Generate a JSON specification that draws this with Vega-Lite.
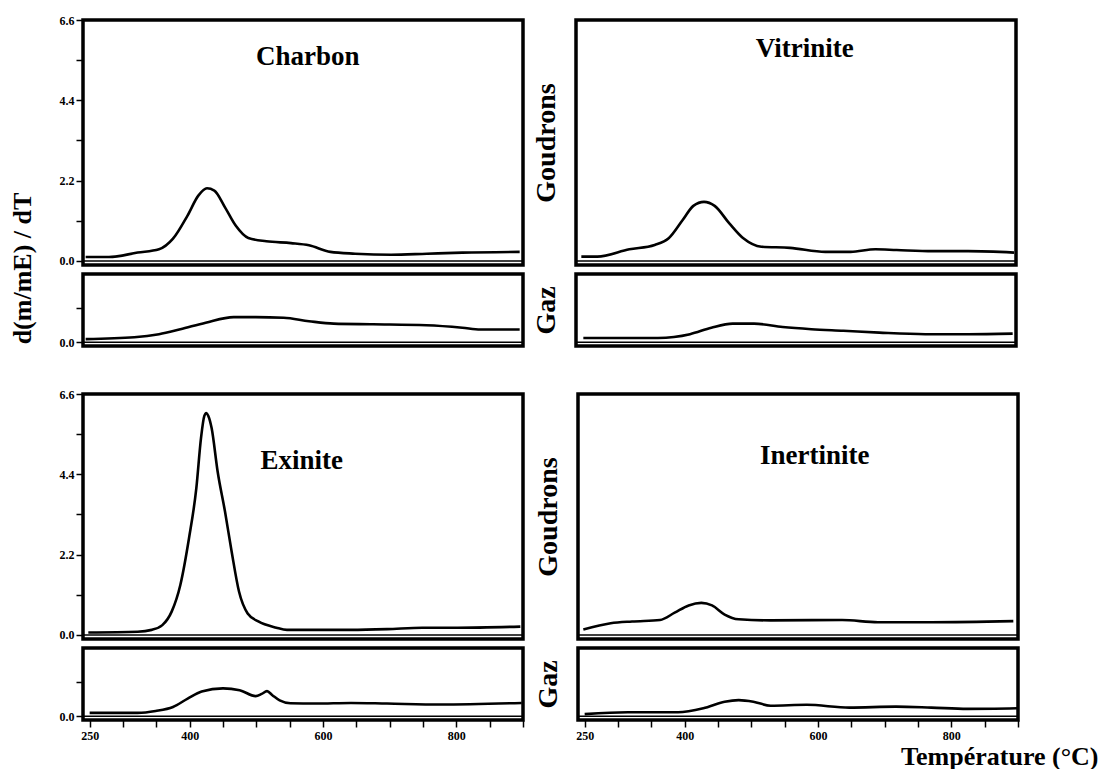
{
  "$schema": "https://vega.github.io/schema/vega-lite/v6.json",
  "background": "white",
  "padding": {"left": 7, "top": 12, "right": 2, "bottom": 2},
  "datasets": {
    "curves": [
      {"s": "Charbon", "p": "Goudrons", "T": 244, "v": 0.11},
      {"s": "Charbon", "p": "Goudrons", "T": 279, "v": 0.11},
      {"s": "Charbon", "p": "Goudrons", "T": 322, "v": 0.23},
      {"s": "Charbon", "p": "Goudrons", "T": 354, "v": 0.32},
      {"s": "Charbon", "p": "Goudrons", "T": 375, "v": 0.61},
      {"s": "Charbon", "p": "Goudrons", "T": 397, "v": 1.25},
      {"s": "Charbon", "p": "Goudrons", "T": 413, "v": 1.79},
      {"s": "Charbon", "p": "Goudrons", "T": 426, "v": 1.99},
      {"s": "Charbon", "p": "Goudrons", "T": 437, "v": 1.93},
      {"s": "Charbon", "p": "Goudrons", "T": 453, "v": 1.47},
      {"s": "Charbon", "p": "Goudrons", "T": 469, "v": 0.97},
      {"s": "Charbon", "p": "Goudrons", "T": 488, "v": 0.63},
      {"s": "Charbon", "p": "Goudrons", "T": 515, "v": 0.54},
      {"s": "Charbon", "p": "Goudrons", "T": 552, "v": 0.49},
      {"s": "Charbon", "p": "Goudrons", "T": 579, "v": 0.43},
      {"s": "Charbon", "p": "Goudrons", "T": 611, "v": 0.25},
      {"s": "Charbon", "p": "Goudrons", "T": 648, "v": 0.20},
      {"s": "Charbon", "p": "Goudrons", "T": 702, "v": 0.17},
      {"s": "Charbon", "p": "Goudrons", "T": 756, "v": 0.20},
      {"s": "Charbon", "p": "Goudrons", "T": 809, "v": 0.23},
      {"s": "Charbon", "p": "Goudrons", "T": 895, "v": 0.25},
      {"s": "Charbon", "p": "Gaz", "T": 244, "v": 0.10},
      {"s": "Charbon", "p": "Gaz", "T": 317, "v": 0.16},
      {"s": "Charbon", "p": "Gaz", "T": 354, "v": 0.26},
      {"s": "Charbon", "p": "Gaz", "T": 386, "v": 0.42},
      {"s": "Charbon", "p": "Gaz", "T": 424, "v": 0.63},
      {"s": "Charbon", "p": "Gaz", "T": 466, "v": 0.81},
      {"s": "Charbon", "p": "Gaz", "T": 499, "v": 0.81},
      {"s": "Charbon", "p": "Gaz", "T": 541, "v": 0.79},
      {"s": "Charbon", "p": "Gaz", "T": 579, "v": 0.68},
      {"s": "Charbon", "p": "Gaz", "T": 616, "v": 0.60},
      {"s": "Charbon", "p": "Gaz", "T": 675, "v": 0.58},
      {"s": "Charbon", "p": "Gaz", "T": 755, "v": 0.55},
      {"s": "Charbon", "p": "Gaz", "T": 809, "v": 0.47},
      {"s": "Charbon", "p": "Gaz", "T": 836, "v": 0.41},
      {"s": "Charbon", "p": "Gaz", "T": 895, "v": 0.41},
      {"s": "Vitrinite", "p": "Goudrons", "T": 248, "v": 0.12},
      {"s": "Vitrinite", "p": "Goudrons", "T": 272, "v": 0.12},
      {"s": "Vitrinite", "p": "Goudrons", "T": 320, "v": 0.32},
      {"s": "Vitrinite", "p": "Goudrons", "T": 358, "v": 0.44},
      {"s": "Vitrinite", "p": "Goudrons", "T": 379, "v": 0.62},
      {"s": "Vitrinite", "p": "Goudrons", "T": 400, "v": 1.12},
      {"s": "Vitrinite", "p": "Goudrons", "T": 416, "v": 1.51},
      {"s": "Vitrinite", "p": "Goudrons", "T": 432, "v": 1.62},
      {"s": "Vitrinite", "p": "Goudrons", "T": 448, "v": 1.51},
      {"s": "Vitrinite", "p": "Goudrons", "T": 470, "v": 1.03},
      {"s": "Vitrinite", "p": "Goudrons", "T": 491, "v": 0.62},
      {"s": "Vitrinite", "p": "Goudrons", "T": 518, "v": 0.39},
      {"s": "Vitrinite", "p": "Goudrons", "T": 561, "v": 0.36},
      {"s": "Vitrinite", "p": "Goudrons", "T": 614, "v": 0.25},
      {"s": "Vitrinite", "p": "Goudrons", "T": 652, "v": 0.25},
      {"s": "Vitrinite", "p": "Goudrons", "T": 689, "v": 0.32},
      {"s": "Vitrinite", "p": "Goudrons", "T": 721, "v": 0.30},
      {"s": "Vitrinite", "p": "Goudrons", "T": 775, "v": 0.27},
      {"s": "Vitrinite", "p": "Goudrons", "T": 828, "v": 0.27},
      {"s": "Vitrinite", "p": "Goudrons", "T": 897, "v": 0.23},
      {"s": "Vitrinite", "p": "Gaz", "T": 251, "v": 0.14},
      {"s": "Vitrinite", "p": "Gaz", "T": 363, "v": 0.14},
      {"s": "Vitrinite", "p": "Gaz", "T": 411, "v": 0.26},
      {"s": "Vitrinite", "p": "Gaz", "T": 443, "v": 0.47},
      {"s": "Vitrinite", "p": "Gaz", "T": 475, "v": 0.60},
      {"s": "Vitrinite", "p": "Gaz", "T": 507, "v": 0.60},
      {"s": "Vitrinite", "p": "Gaz", "T": 550, "v": 0.49},
      {"s": "Vitrinite", "p": "Gaz", "T": 593, "v": 0.42},
      {"s": "Vitrinite", "p": "Gaz", "T": 641, "v": 0.37},
      {"s": "Vitrinite", "p": "Gaz", "T": 695, "v": 0.31},
      {"s": "Vitrinite", "p": "Gaz", "T": 764, "v": 0.26},
      {"s": "Vitrinite", "p": "Gaz", "T": 828, "v": 0.26},
      {"s": "Vitrinite", "p": "Gaz", "T": 895, "v": 0.28},
      {"s": "Exinite", "p": "Goudrons", "T": 248, "v": 0.07},
      {"s": "Exinite", "p": "Goudrons", "T": 322, "v": 0.09},
      {"s": "Exinite", "p": "Goudrons", "T": 343, "v": 0.14},
      {"s": "Exinite", "p": "Goudrons", "T": 359, "v": 0.27},
      {"s": "Exinite", "p": "Goudrons", "T": 373, "v": 0.64},
      {"s": "Exinite", "p": "Goudrons", "T": 386, "v": 1.37},
      {"s": "Exinite", "p": "Goudrons", "T": 399, "v": 2.65},
      {"s": "Exinite", "p": "Goudrons", "T": 410, "v": 4.02},
      {"s": "Exinite", "p": "Goudrons", "T": 417, "v": 5.39},
      {"s": "Exinite", "p": "Goudrons", "T": 422, "v": 6.0},
      {"s": "Exinite", "p": "Goudrons", "T": 425, "v": 6.08},
      {"s": "Exinite", "p": "Goudrons", "T": 428, "v": 6.0},
      {"s": "Exinite", "p": "Goudrons", "T": 433, "v": 5.66},
      {"s": "Exinite", "p": "Goudrons", "T": 442, "v": 4.47},
      {"s": "Exinite", "p": "Goudrons", "T": 453, "v": 3.38},
      {"s": "Exinite", "p": "Goudrons", "T": 463, "v": 2.28},
      {"s": "Exinite", "p": "Goudrons", "T": 474, "v": 1.19},
      {"s": "Exinite", "p": "Goudrons", "T": 487, "v": 0.59},
      {"s": "Exinite", "p": "Goudrons", "T": 503, "v": 0.37},
      {"s": "Exinite", "p": "Goudrons", "T": 530, "v": 0.20},
      {"s": "Exinite", "p": "Goudrons", "T": 546, "v": 0.14},
      {"s": "Exinite", "p": "Goudrons", "T": 589, "v": 0.14},
      {"s": "Exinite", "p": "Goudrons", "T": 642, "v": 0.14},
      {"s": "Exinite", "p": "Goudrons", "T": 696, "v": 0.16},
      {"s": "Exinite", "p": "Goudrons", "T": 749, "v": 0.20},
      {"s": "Exinite", "p": "Goudrons", "T": 802, "v": 0.20},
      {"s": "Exinite", "p": "Goudrons", "T": 896, "v": 0.23},
      {"s": "Exinite", "p": "Gaz", "T": 250, "v": 0.11},
      {"s": "Exinite", "p": "Gaz", "T": 322, "v": 0.11},
      {"s": "Exinite", "p": "Gaz", "T": 349, "v": 0.17},
      {"s": "Exinite", "p": "Gaz", "T": 375, "v": 0.30},
      {"s": "Exinite", "p": "Gaz", "T": 397, "v": 0.57},
      {"s": "Exinite", "p": "Gaz", "T": 418, "v": 0.80},
      {"s": "Exinite", "p": "Gaz", "T": 450, "v": 0.90},
      {"s": "Exinite", "p": "Gaz", "T": 475, "v": 0.84},
      {"s": "Exinite", "p": "Gaz", "T": 499, "v": 0.65},
      {"s": "Exinite", "p": "Gaz", "T": 508, "v": 0.72},
      {"s": "Exinite", "p": "Gaz", "T": 516, "v": 0.81},
      {"s": "Exinite", "p": "Gaz", "T": 524, "v": 0.68},
      {"s": "Exinite", "p": "Gaz", "T": 535, "v": 0.51},
      {"s": "Exinite", "p": "Gaz", "T": 551, "v": 0.42},
      {"s": "Exinite", "p": "Gaz", "T": 589, "v": 0.41},
      {"s": "Exinite", "p": "Gaz", "T": 642, "v": 0.43},
      {"s": "Exinite", "p": "Gaz", "T": 696, "v": 0.41},
      {"s": "Exinite", "p": "Gaz", "T": 776, "v": 0.38},
      {"s": "Exinite", "p": "Gaz", "T": 898, "v": 0.43},
      {"s": "Inertinite", "p": "Goudrons", "T": 248, "v": 0.15},
      {"s": "Inertinite", "p": "Goudrons", "T": 289, "v": 0.32},
      {"s": "Inertinite", "p": "Goudrons", "T": 321, "v": 0.37},
      {"s": "Inertinite", "p": "Goudrons", "T": 363, "v": 0.41},
      {"s": "Inertinite", "p": "Goudrons", "T": 385, "v": 0.61},
      {"s": "Inertinite", "p": "Goudrons", "T": 406, "v": 0.81},
      {"s": "Inertinite", "p": "Goudrons", "T": 425, "v": 0.88},
      {"s": "Inertinite", "p": "Goudrons", "T": 441, "v": 0.81},
      {"s": "Inertinite", "p": "Goudrons", "T": 460, "v": 0.56},
      {"s": "Inertinite", "p": "Goudrons", "T": 481, "v": 0.43},
      {"s": "Inertinite", "p": "Goudrons", "T": 529, "v": 0.40},
      {"s": "Inertinite", "p": "Goudrons", "T": 636, "v": 0.41},
      {"s": "Inertinite", "p": "Goudrons", "T": 690, "v": 0.35},
      {"s": "Inertinite", "p": "Goudrons", "T": 770, "v": 0.35},
      {"s": "Inertinite", "p": "Goudrons", "T": 893, "v": 0.38},
      {"s": "Inertinite", "p": "Gaz", "T": 250, "v": 0.07},
      {"s": "Inertinite", "p": "Gaz", "T": 315, "v": 0.13},
      {"s": "Inertinite", "p": "Gaz", "T": 390, "v": 0.13},
      {"s": "Inertinite", "p": "Gaz", "T": 428, "v": 0.26},
      {"s": "Inertinite", "p": "Gaz", "T": 460, "v": 0.47},
      {"s": "Inertinite", "p": "Gaz", "T": 481, "v": 0.52},
      {"s": "Inertinite", "p": "Gaz", "T": 503, "v": 0.47},
      {"s": "Inertinite", "p": "Gaz", "T": 529, "v": 0.34},
      {"s": "Inertinite", "p": "Gaz", "T": 583, "v": 0.37},
      {"s": "Inertinite", "p": "Gaz", "T": 647, "v": 0.28},
      {"s": "Inertinite", "p": "Gaz", "T": 717, "v": 0.31},
      {"s": "Inertinite", "p": "Gaz", "T": 770, "v": 0.28},
      {"s": "Inertinite", "p": "Gaz", "T": 824, "v": 0.24},
      {"s": "Inertinite", "p": "Gaz", "T": 899, "v": 0.26}
    ]
  },
  "config": {
    "font": "Liberation Serif",
    "view": {"stroke": "black", "strokeWidth": 3.5},
    "axis": {
      "labelFont": "Liberation Serif",
      "titleFont": "Liberation Serif",
      "labelFontWeight": "bold",
      "titleFontWeight": "bold",
      "labelColor": "black",
      "titleColor": "black",
      "tickColor": "black",
      "tickWidth": 1.5,
      "tickSize": 7,
      "domain": false,
      "grid": false,
      "labelOverlap": false,
      "labelFlush": false
    }
  },
  "spacing": 35,
  "vconcat": [
    {
      "spacing": 3,
      "hconcat": [
        {
          "bounds": "flush",
          "spacing": 9,
          "vconcat": [
            {
              "width": 440, "height": 245,
              "layer": [
                {
                  "data": {"values": [{"v": 0}]},
                  "mark": {"type": "rule", "color": "black", "strokeWidth": 1.6},
                  "encoding": {
                    "y": {"field": "v", "type": "quantitative", "scale": {"domain": [-0.11, 6.6], "nice": false, "zero": false},
                      "axis": {"values": [0, 1.1, 2.2, 3.3, 4.4, 5.5, 6.6], "labelExpr": "round(datum.value*10) % 22 == 0 ? format(datum.value, '.1f') : ''", "labelFontSize": 12, "labelPadding": 2,
                        "title": "d(m/mE) / dT", "titleFontSize": 26, "titleX": -61, "titleY": 248, "titleAngle": 270, "titleAlign": "center", "titleBaseline": "middle"}}
                  }
                },
                {
                  "data": {"name": "curves"},
                  "transform": [{"filter": "datum.s === 'Charbon' && datum.p === 'Goudrons'"}],
                  "mark": {"type": "line", "interpolate": "monotone", "color": "black", "strokeWidth": 2.6},
                  "encoding": {
                    "x": {"field": "T", "type": "quantitative", "scale": {"domain": [240, 900], "nice": false, "zero": false}, "axis": null},
                    "y": {"field": "v", "type": "quantitative", "scale": {"domain": [-0.11, 6.6], "nice": false, "zero": false},
                      "axis": {"values": [0, 1.1, 2.2, 3.3, 4.4, 5.5, 6.6], "labelExpr": "round(datum.value*10) % 22 == 0 ? format(datum.value, '.1f') : ''", "labelFontSize": 12, "labelPadding": 2,
                        "title": "d(m/mE) / dT", "titleFontSize": 26, "titleX": -61, "titleY": 248, "titleAngle": 270, "titleAlign": "center", "titleBaseline": "middle"}}
                  }
                },
                {
                  "data": {"values": [{"label": "Charbon"}]},
                  "mark": {"type": "text", "font": "Liberation Serif", "fontSize": 27, "fontWeight": "bold", "color": "black"},
                  "encoding": {"x": {"datum": 577}, "y": {"datum": 5.6}, "text": {"field": "label"}}
                }
              ]
            },
            {
              "width": 440, "height": 72,
              "layer": [
                {
                  "data": {"values": [{"v": 0}]},
                  "mark": {"type": "rule", "color": "black", "strokeWidth": 1.6},
                  "encoding": {
                    "y": {"field": "v", "type": "quantitative", "scale": {"domain": [-0.12, 2.2], "nice": false, "zero": false},
                      "axis": {"values": [0, 1.1], "labelExpr": "datum.value == 0 ? '0.0' : ''", "labelFontSize": 12, "labelPadding": 2, "title": null}}
                  }
                },
                {
                  "data": {"name": "curves"},
                  "transform": [{"filter": "datum.s === 'Charbon' && datum.p === 'Gaz'"}],
                  "mark": {"type": "line", "interpolate": "monotone", "color": "black", "strokeWidth": 2.6},
                  "encoding": {
                    "x": {"field": "T", "type": "quantitative", "scale": {"domain": [240, 900], "nice": false, "zero": false}, "axis": null},
                    "y": {"field": "v", "type": "quantitative", "scale": {"domain": [-0.12, 2.2], "nice": false, "zero": false},
                      "axis": {"values": [0, 1.1], "labelExpr": "datum.value == 0 ? '0.0' : ''", "labelFontSize": 12, "labelPadding": 2, "title": null}}
                  }
                }
              ]
            }
          ]
        },
        {
          "bounds": "flush",
          "spacing": 9,
          "vconcat": [
            {
              "width": 440, "height": 245,
              "layer": [
                {
                  "data": {"values": [{"v": 0}]},
                  "mark": {"type": "rule", "color": "black", "strokeWidth": 1.6},
                  "encoding": {
                    "y": {"field": "v", "type": "quantitative", "scale": {"domain": [-0.11, 6.6], "nice": false, "zero": false},
                      "axis": {"ticks": false, "labels": false, "title": "Goudrons", "titleFontSize": 28, "titleX": -30, "titleY": 122.5, "titleAngle": 270, "titleAlign": "center", "titleBaseline": "middle"}}
                  }
                },
                {
                  "data": {"name": "curves"},
                  "transform": [{"filter": "datum.s === 'Vitrinite' && datum.p === 'Goudrons'"}],
                  "mark": {"type": "line", "interpolate": "monotone", "color": "black", "strokeWidth": 2.6},
                  "encoding": {
                    "x": {"field": "T", "type": "quantitative", "scale": {"domain": [240, 900], "nice": false, "zero": false}, "axis": null},
                    "y": {"field": "v", "type": "quantitative", "scale": {"domain": [-0.11, 6.6], "nice": false, "zero": false},
                      "axis": {"ticks": false, "labels": false, "title": "Goudrons", "titleFontSize": 28, "titleX": -30, "titleY": 122.5, "titleAngle": 270, "titleAlign": "center", "titleBaseline": "middle"}}
                  }
                },
                {
                  "data": {"values": [{"label": "Vitrinite"}]},
                  "mark": {"type": "text", "font": "Liberation Serif", "fontSize": 27, "fontWeight": "bold", "color": "black"},
                  "encoding": {"x": {"datum": 583}, "y": {"datum": 5.8}, "text": {"field": "label"}}
                }
              ]
            },
            {
              "width": 440, "height": 72,
              "layer": [
                {
                  "data": {"values": [{"v": 0}]},
                  "mark": {"type": "rule", "color": "black", "strokeWidth": 1.6},
                  "encoding": {
                    "y": {"field": "v", "type": "quantitative", "scale": {"domain": [-0.12, 2.2], "nice": false, "zero": false},
                      "axis": {"ticks": false, "labels": false, "title": "Gaz", "titleFontSize": 28, "titleX": -30, "titleY": 36, "titleAngle": 270, "titleAlign": "center", "titleBaseline": "middle"}}
                  }
                },
                {
                  "data": {"name": "curves"},
                  "transform": [{"filter": "datum.s === 'Vitrinite' && datum.p === 'Gaz'"}],
                  "mark": {"type": "line", "interpolate": "monotone", "color": "black", "strokeWidth": 2.6},
                  "encoding": {
                    "x": {"field": "T", "type": "quantitative", "scale": {"domain": [240, 900], "nice": false, "zero": false}, "axis": null},
                    "y": {"field": "v", "type": "quantitative", "scale": {"domain": [-0.12, 2.2], "nice": false, "zero": false},
                      "axis": {"ticks": false, "labels": false, "title": "Gaz", "titleFontSize": 28, "titleX": -30, "titleY": 36, "titleAngle": 270, "titleAlign": "center", "titleBaseline": "middle"}}
                  }
                }
              ]
            }
          ]
        }
      ]
    },
    {
      "spacing": 3,
      "hconcat": [
        {
          "bounds": "flush",
          "spacing": 9,
          "vconcat": [
            {
              "width": 440, "height": 245,
              "layer": [
                {
                  "data": {"values": [{"v": 0}]},
                  "mark": {"type": "rule", "color": "black", "strokeWidth": 1.6},
                  "encoding": {
                    "y": {"field": "v", "type": "quantitative", "scale": {"domain": [-0.11, 6.6], "nice": false, "zero": false},
                      "axis": {"values": [0, 1.1, 2.2, 3.3, 4.4, 5.5, 6.6], "labelExpr": "round(datum.value*10) % 22 == 0 ? format(datum.value, '.1f') : ''", "labelFontSize": 12, "labelPadding": 2, "title": null}}
                  }
                },
                {
                  "data": {"name": "curves"},
                  "transform": [{"filter": "datum.s === 'Exinite' && datum.p === 'Goudrons'"}],
                  "mark": {"type": "line", "interpolate": "monotone", "color": "black", "strokeWidth": 2.6},
                  "encoding": {
                    "x": {"field": "T", "type": "quantitative", "scale": {"domain": [240, 900], "nice": false, "zero": false}, "axis": null},
                    "y": {"field": "v", "type": "quantitative", "scale": {"domain": [-0.11, 6.6], "nice": false, "zero": false},
                      "axis": {"values": [0, 1.1, 2.2, 3.3, 4.4, 5.5, 6.6], "labelExpr": "round(datum.value*10) % 22 == 0 ? format(datum.value, '.1f') : ''", "labelFontSize": 12, "labelPadding": 2, "title": null}}
                  }
                },
                {
                  "data": {"values": [{"label": "Exinite"}]},
                  "mark": {"type": "text", "font": "Liberation Serif", "fontSize": 27, "fontWeight": "bold", "color": "black"},
                  "encoding": {"x": {"datum": 568}, "y": {"datum": 4.77}, "text": {"field": "label"}}
                }
              ]
            },
            {
              "width": 440, "height": 72,
              "layer": [
                {
                  "data": {"values": [{"v": 0}]},
                  "mark": {"type": "rule", "color": "black", "strokeWidth": 1.6},
                  "encoding": {
                    "y": {"field": "v", "type": "quantitative", "scale": {"domain": [-0.12, 2.2], "nice": false, "zero": false},
                      "axis": {"values": [0, 1.1], "labelExpr": "datum.value == 0 ? '0.0' : ''", "labelFontSize": 12, "labelPadding": 2, "title": null}}
                  }
                },
                {
                  "data": {"name": "curves"},
                  "transform": [{"filter": "datum.s === 'Exinite' && datum.p === 'Gaz'"}],
                  "mark": {"type": "line", "interpolate": "monotone", "color": "black", "strokeWidth": 2.6},
                  "encoding": {
                    "x": {"field": "T", "type": "quantitative", "scale": {"domain": [240, 900], "nice": false, "zero": false},
                      "axis": {"values": [250, 300, 350, 400, 450, 500, 550, 600, 650, 700, 750, 800, 850, 900], "labelExpr": "indexof([250, 400, 600, 800], datum.value) >= 0 ? datum.label : ''", "labelFontSize": 12, "labelPadding": 3, "title": null}},
                    "y": {"field": "v", "type": "quantitative", "scale": {"domain": [-0.12, 2.2], "nice": false, "zero": false},
                      "axis": {"values": [0, 1.1], "labelExpr": "datum.value == 0 ? '0.0' : ''", "labelFontSize": 12, "labelPadding": 2, "title": null}}
                  }
                }
              ]
            }
          ]
        },
        {
          "bounds": "flush",
          "spacing": 9,
          "vconcat": [
            {
              "width": 440, "height": 245,
              "layer": [
                {
                  "data": {"values": [{"v": 0}]},
                  "mark": {"type": "rule", "color": "black", "strokeWidth": 1.6},
                  "encoding": {
                    "y": {"field": "v", "type": "quantitative", "scale": {"domain": [-0.11, 6.6], "nice": false, "zero": false},
                      "axis": {"ticks": false, "labels": false, "title": "Goudrons", "titleFontSize": 28, "titleX": -30, "titleY": 122.5, "titleAngle": 270, "titleAlign": "center", "titleBaseline": "middle"}}
                  }
                },
                {
                  "data": {"name": "curves"},
                  "transform": [{"filter": "datum.s === 'Inertinite' && datum.p === 'Goudrons'"}],
                  "mark": {"type": "line", "interpolate": "monotone", "color": "black", "strokeWidth": 2.6},
                  "encoding": {
                    "x": {"field": "T", "type": "quantitative", "scale": {"domain": [240, 900], "nice": false, "zero": false}, "axis": null},
                    "y": {"field": "v", "type": "quantitative", "scale": {"domain": [-0.11, 6.6], "nice": false, "zero": false},
                      "axis": {"ticks": false, "labels": false, "title": "Goudrons", "titleFontSize": 28, "titleX": -30, "titleY": 122.5, "titleAngle": 270, "titleAlign": "center", "titleBaseline": "middle"}}
                  }
                },
                {
                  "data": {"values": [{"label": "Inertinite"}]},
                  "mark": {"type": "text", "font": "Liberation Serif", "fontSize": 27, "fontWeight": "bold", "color": "black"},
                  "encoding": {"x": {"datum": 595}, "y": {"datum": 4.9}, "text": {"field": "label"}}
                }
              ]
            },
            {
              "width": 440, "height": 72,
              "layer": [
                {
                  "data": {"values": [{"v": 0}]},
                  "mark": {"type": "rule", "color": "black", "strokeWidth": 1.6},
                  "encoding": {
                    "y": {"field": "v", "type": "quantitative", "scale": {"domain": [-0.12, 2.2], "nice": false, "zero": false},
                      "axis": {"ticks": false, "labels": false, "title": "Gaz", "titleFontSize": 28, "titleX": -30, "titleY": 36, "titleAngle": 270, "titleAlign": "center", "titleBaseline": "middle"}}
                  }
                },
                {
                  "data": {"name": "curves"},
                  "transform": [{"filter": "datum.s === 'Inertinite' && datum.p === 'Gaz'"}],
                  "mark": {"type": "line", "interpolate": "monotone", "color": "black", "strokeWidth": 2.6},
                  "encoding": {
                    "x": {"field": "T", "type": "quantitative", "scale": {"domain": [240, 900], "nice": false, "zero": false},
                      "axis": {"values": [250, 300, 350, 400, 450, 500, 550, 600, 650, 700, 750, 800, 850, 900], "labelExpr": "indexof([250, 400, 600, 800], datum.value) >= 0 ? datum.label : ''", "labelFontSize": 12, "labelPadding": 3,
                        "title": "Température (°C)", "titleFontSize": 26, "titleX": 520, "titleY": 44, "titleAlign": "right", "titleBaseline": "alphabetic", "titleAnchor": null}},
                    "y": {"field": "v", "type": "quantitative", "scale": {"domain": [-0.12, 2.2], "nice": false, "zero": false},
                      "axis": {"ticks": false, "labels": false, "title": "Gaz", "titleFontSize": 28, "titleX": -30, "titleY": 36, "titleAngle": 270, "titleAlign": "center", "titleBaseline": "middle"}}
                  }
                }
              ]
            }
          ]
        }
      ]
    }
  ]
}
